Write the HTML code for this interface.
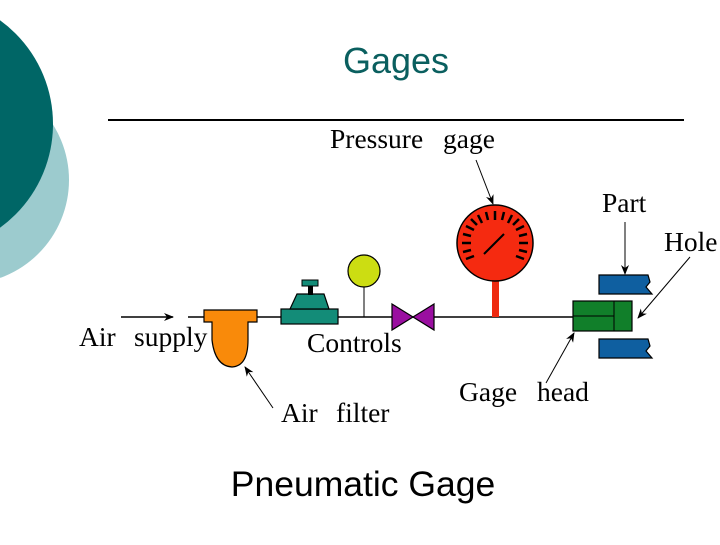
<!DOCTYPE html>
<html><head><style>
body{margin:0;width:720px;height:540px;background:#fff;overflow:hidden}
</style></head><body>
<svg width="720" height="540" viewBox="0 0 720 540" xmlns="http://www.w3.org/2000/svg">
<defs><marker id="a" markerWidth="10" markerHeight="8" refX="9" refY="4" orient="auto" markerUnits="userSpaceOnUse"><path d="M0,0 L10,4 L0,8 L3,4z" fill="#000"/></marker></defs>
<circle cx="-35" cy="180" r="104" fill="#9ccbce"/>
<circle cx="-75" cy="124" r="128" fill="#006666"/>
<text x="396" y="73" font-family="Liberation Sans, sans-serif" font-size="36" fill="#0a5f5f" text-anchor="middle">Gages</text>
<line x1="108" y1="120" x2="684" y2="120" stroke="#000" stroke-width="2"/>
<g font-family="Liberation Serif, serif" font-size="27.5" fill="#000">
<text x="330" y="148">Pressure</text><text x="443" y="148">gage</text>
<text x="602" y="212">Part</text>
<text x="664" y="251">Hole</text>
<text x="79" y="346">Air</text><text x="134" y="346">supply</text>
<text x="307" y="352">Controls</text>
<text x="281" y="422">Air</text><text x="336" y="422">filter</text>
<text x="459" y="401">Gage</text><text x="537" y="401">head</text>
</g>
<text x="363" y="496" font-family="Liberation Sans, sans-serif" font-size="35.5" text-anchor="middle">Pneumatic Gage</text>
<line x1="188" y1="317" x2="575" y2="317" stroke="#000" stroke-width="1.5"/>
<line x1="121" y1="317" x2="173" y2="317" stroke="#000" stroke-width="1.5" marker-end="url(#a)"/>
<path d="M204,310 H257 V322 H248 V340 Q248,366 232,367 Q215,366 212,340 V322 H204Z" fill="#f98a0a" stroke="#000" stroke-width="1.2"/>
<line x1="273" y1="408" x2="245" y2="367" stroke="#000" stroke-width="1" marker-end="url(#a)"/>
<rect x="281" y="309" width="57" height="15" fill="#138c78" stroke="#000" stroke-width="1.2"/>
<path d="M290,309 L297,294 H324 L329,309Z" fill="#138c78" stroke="#000" stroke-width="1.2"/>
<rect x="308" y="286" width="5" height="9" fill="#000"/>
<rect x="302" y="280" width="16" height="6" fill="#138c78" stroke="#000" stroke-width="1"/>
<line x1="364" y1="286" x2="364" y2="317" stroke="#000"/>
<circle cx="364" cy="271" r="16" fill="#ccdd12" stroke="#000" stroke-width="1.2"/>
<path d="M392,304 L413,317 L392,330Z M434,304 L413,317 L434,330Z" fill="#9a0fa0" stroke="#000" stroke-width="1.2"/>
<rect x="492" y="280" width="7" height="37" fill="#ee2a10"/>
<circle cx="495" cy="243" r="38" fill="#f52a10" stroke="#000" stroke-width="1.5"/>
<g stroke="#000" stroke-width="2.5">
<path d="M495,211v9 M478,215l4,8 M466,226l8,4 M462,243h9 M466,259l8,-3 M512,215l-4,8 M524,226l-8,4 M528,243h-9 M524,259l-8,-3 M486,212l2,8 M504,212l-2,8 M471,219l6,6 M519,219l-6,6 M463,234l8,2 M527,234l-8,2 M463,252l8,-2 M527,252l-8,-2"/>
</g>
<line x1="484" y1="254" x2="504" y2="234" stroke="#000" stroke-width="2"/>
<line x1="476" y1="160" x2="493" y2="204" stroke="#000" stroke-width="1" marker-end="url(#a)"/>
<rect x="573" y="301" width="59" height="30" fill="#117f2a" stroke="#000" stroke-width="1.2"/>
<line x1="573" y1="316" x2="614" y2="316" stroke="#000"/>
<line x1="614" y1="301" x2="614" y2="331" stroke="#000"/>
<path d="M599,275 H648 L650,282 L646,287 L652,294 H599Z" fill="#0f5fa0" stroke="#000" stroke-width="1.2"/>
<path d="M599,339 H648 L650,346 L646,351 L652,358 H599Z" fill="#0f5fa0" stroke="#000" stroke-width="1.2"/>
<line x1="625" y1="222" x2="625" y2="274" stroke="#000" stroke-width="1" marker-end="url(#a)"/>
<line x1="690" y1="257" x2="638" y2="318" stroke="#000" stroke-width="1" marker-end="url(#a)"/>
<line x1="546" y1="383" x2="574" y2="333" stroke="#000" stroke-width="1" marker-end="url(#a)"/>
</svg>
</body></html>
